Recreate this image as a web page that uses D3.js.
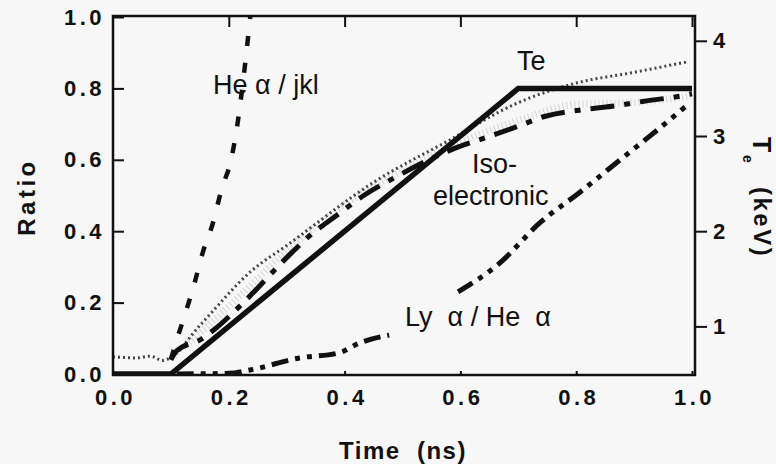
<!DOCTYPE html>
<html>
<head>
<meta charset="utf-8">
<script src="https://cdn.jsdelivr.net/npm/d3@7"></script>
<style>
  body { margin: 0; background: #f7f7f7; }
  svg { display: block; font-family: "Liberation Sans", Arial, sans-serif; }
</style>
</head>
<body>
<div id="chart"></div>
<script>
// tick values
const timeTicks = [0, 0.2, 0.4, 0.6, 0.8, 1.0];
const ratioTicks = [0, 0.2, 0.4, 0.6, 0.8, 1.0];
const teTicks = [1, 2, 3, 4];

// Te (keV, right axis)
const teTime = [0, 0.1, 0.7, 1.0];
const teKeV = [0.5, 0.5, 3.5, 3.5];

// He alpha / jkl
const heTime = [0.1, 0.109, 0.125, 0.14, 0.155, 0.172, 0.188, 0.204, 0.214, 0.229, 0.237];
const heRatio = [0.04, 0.09, 0.17, 0.25, 0.34, 0.42, 0.52, 0.6, 0.69, 0.88, 1.0];

// iso-electronic, dash-dot curve
const isoTime = [0.1, 0.11, 0.153, 0.176, 0.219, 0.3, 0.34, 0.386, 0.433, 0.484, 0.59, 0.64, 0.693, 0.747, 0.805, 0.862, 0.917, 0.978, 1.0];
const isoRatio = [0.04, 0.065, 0.098, 0.126, 0.19, 0.326, 0.388, 0.444, 0.5, 0.548, 0.632, 0.66, 0.69, 0.722, 0.739, 0.75, 0.764, 0.778, 0.785];

// iso-electronic, upper dotted curve
const isoUpTime = [0, 0.04, 0.065, 0.085, 0.095, 0.15, 0.24, 0.3, 0.455, 0.58, 0.697, 0.8, 0.9, 0.99];
const isoUpRatio = [0.048, 0.045, 0.05, 0.038, 0.042, 0.136, 0.29, 0.36, 0.542, 0.654, 0.758, 0.815, 0.845, 0.874];

// iso-electronic, grey stippled band
const isoMidTime = [0.1, 0.15, 0.22, 0.3, 0.4, 0.5, 0.6, 0.7, 0.8, 0.9, 1.0];
const isoMidRatio = [0.045, 0.115, 0.22, 0.345, 0.475, 0.57, 0.65, 0.71, 0.755, 0.76, 0.78];

// Ly alpha / He alpha (null = hidden under label)
const lyTime = [0.11, 0.2, 0.236, 0.322, 0.39, 0.426, 0.477, null, 0.596, 0.668, 0.737, 0.807, 0.876, 0.945, 0.988];
const lyRatio = [0.0, 0.002, 0.011, 0.045, 0.059, 0.087, 0.109, null, 0.23, 0.311, 0.423, 0.51, 0.6, 0.69, 0.748];

window.onload = function() {
    const width = 776, height = 464;
    const left = 113, right = 695, top = 16, bottom = 375;

    const svg = d3.select("#chart").append("svg")
        .attr("width", width)
        .attr("height", height);

    const x = d3.scaleLinear().domain([0, 1]).range([left, 692]);
    const y = d3.scaleLinear().domain([0, 1]).range([374, 17]);
    const yTe = d3.scaleLinear().domain([0.5, 4.25]).range([374, 17]);

    const zip = (a, b) => a.map((v, i) => v == null ? null : [v, b[i]]);

    svg.append("clipPath").attr("id", "plot")
        .append("rect")
        .attr("x", left).attr("y", top)
        .attr("width", right - left).attr("height", bottom - top);

    const g = svg.append("g").attr("clip-path", "url(#plot)");

    const lineR = d3.line()
        .defined(d => d != null)
        .x(d => x(d[0])).y(d => y(d[1]))
        .curve(d3.curveMonotoneX);

    const lineTe = d3.line().x(d => x(d[0])).y(d => yTe(d[1]));

    // stippled grey band
    g.append("path")
        .attr("d", lineR(zip(isoMidTime, isoMidRatio)))
        .attr("fill", "none").attr("stroke", "#d2d2d2")
        .attr("stroke-width", 7).attr("stroke-dasharray", "1 3");

    // upper dotted curve
    g.append("path")
        .attr("d", lineR(zip(isoUpTime, isoUpRatio)))
        .attr("fill", "none").attr("stroke", "#444")
        .attr("stroke-width", 3).attr("stroke-dasharray", "2 3");

    // dash-dot iso-electronic
    g.append("path")
        .attr("d", lineR(zip(isoTime, isoRatio)))
        .attr("fill", "none").attr("stroke", "#111")
        .attr("stroke-width", 5).attr("stroke-dasharray", "24 10 6 10");

    // Ly alpha / He alpha
    g.append("path")
        .attr("d", lineR(zip(lyTime, lyRatio)))
        .attr("fill", "none").attr("stroke", "#111")
        .attr("stroke-width", 5).attr("stroke-dasharray", "17 7 5 7 5 7");

    // He alpha / jkl
    g.append("path")
        .attr("d", lineR(zip(heTime, heRatio)))
        .attr("fill", "none").attr("stroke", "#111")
        .attr("stroke-width", 4.5).attr("stroke-dasharray", "10 17");

    // Te
    g.append("path")
        .attr("d", lineTe(zip(teTime, teKeV)))
        .attr("fill", "none").attr("stroke", "#111")
        .attr("stroke-width", 5.5).attr("stroke-linejoin", "miter");

    // frame
    svg.append("rect")
        .attr("x", left).attr("y", top)
        .attr("width", right - left).attr("height", bottom - top)
        .attr("fill", "none").attr("stroke", "#111").attr("stroke-width", 2.5);

    const fmt = d3.format(".1f");

    const axisStyle = sel => {
        sel.select(".domain").remove();
        sel.selectAll("line").attr("stroke", "#111").attr("stroke-width", 2);
        sel.selectAll("text")
            .attr("fill", "#111")
            .style("font-size", "22px")
            .style("font-weight", "bold")
            .style("letter-spacing", "3.5px");
    };

    svg.append("g")
        .attr("transform", `translate(${left},0)`)
        .call(d3.axisLeft(y).tickValues(ratioTicks).tickFormat(fmt).tickSize(-11).tickPadding(8))
        .call(axisStyle);

    svg.append("g")
        .attr("transform", `translate(0,${bottom})`)
        .call(d3.axisBottom(x).tickValues(timeTicks).tickFormat(fmt).tickSize(-4).tickPadding(14))
        .call(axisStyle)
        .selectAll("text").attr("dx", "2px");

    svg.append("g")
        .attr("transform", `translate(0,${top})`)
        .call(d3.axisTop(x).tickValues(timeTicks.slice(1)).tickFormat("").tickSize(-11))
        .call(axisStyle);

    svg.append("g")
        .attr("transform", `translate(${right},0)`)
        .call(d3.axisRight(yTe).tickValues(teTicks).tickFormat(d3.format("d")).tickSize(12).tickPadding(6))
        .call(axisStyle);

    // axis titles
    svg.append("text")
        .attr("transform", "translate(35,197) rotate(-90)")
        .attr("text-anchor", "middle")
        .style("font-size", "24px").style("font-weight", "bold").style("letter-spacing", "3.5px")
        .attr("fill", "#111")
        .text("Ratio");

    svg.append("text")
        .attr("x", 403).attr("y", 459)
        .attr("text-anchor", "middle")
        .style("font-size", "24px").style("font-weight", "bold").style("letter-spacing", "1.5px")
        .style("white-space", "pre")
        .attr("fill", "#111")
        .text("Time  (ns)");

    const teTitle = svg.append("g").attr("transform", "translate(753,137) rotate(90)");
    teTitle.append("text")
        .style("font-size", "25px").style("font-weight", "bold").attr("fill", "#111")
        .text("T");
    teTitle.append("text")
        .attr("x", 18).attr("y", 10)
        .style("font-size", "14px").style("font-weight", "bold").attr("fill", "#111")
        .text("e");
    teTitle.append("text")
        .attr("x", 50).attr("y", -1)
        .style("font-size", "24px").style("font-weight", "bold").style("letter-spacing", "2.5px")
        .attr("fill", "#111")
        .text("(keV)");

    // curve labels
    const note = (tx, ty, s) => svg.append("text")
        .attr("x", tx).attr("y", ty)
        .style("font-size", "27px").style("white-space", "pre")
        .attr("fill", "#111")
        .text(s);

    note(213, 94, "He α / jkl");
    note(517, 70, "Te");
    note(472, 173, "Iso-");
    note(433, 205, "electronic");
    note(405, 326, "Ly  α / He  α");
};
</script>
</body>
</html>
